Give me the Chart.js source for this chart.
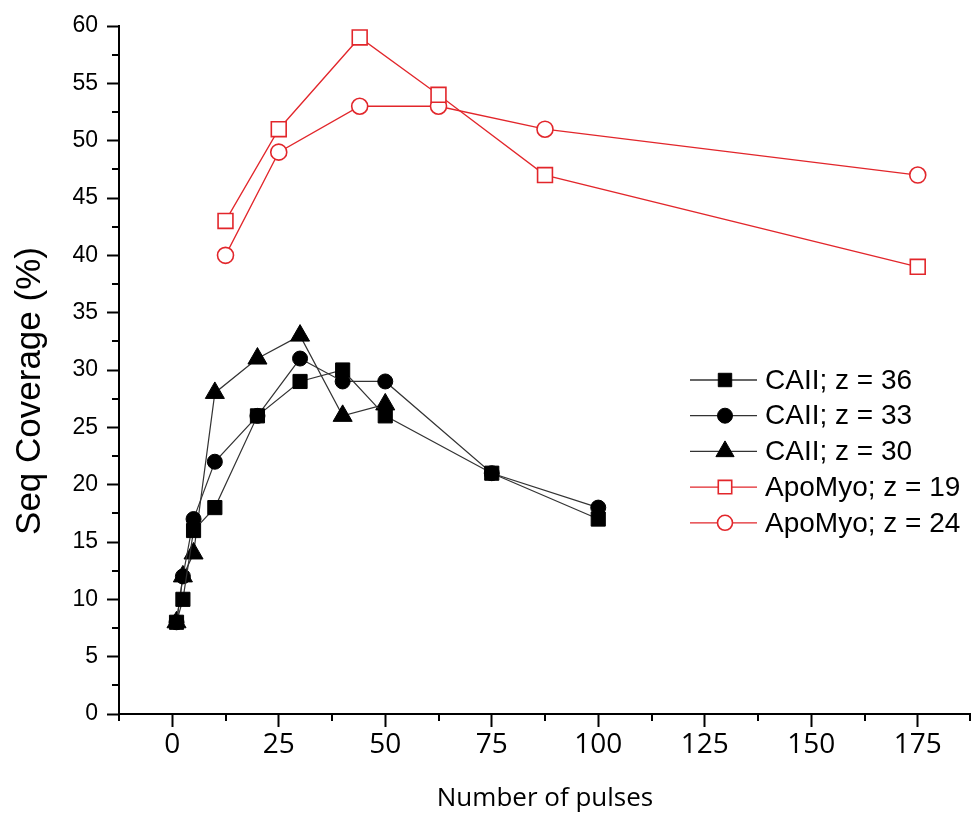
<!DOCTYPE html>
<html>
<head>
<meta charset="utf-8">
<script src="https://cdn.jsdelivr.net/npm/chart.js@4.4.1/dist/chart.umd.min.js"></script>
<style>
  html, body { margin: 0; padding: 0; background: #fff; }
  #wrap { width: 971px; height: 814px; }
</style>
</head>
<body>
<div id="wrap"><canvas id="cov"></canvas></div>
<script>
// pulses vs. sequence coverage
const caiiPulses = [1, 2.5, 5, 10, 20, 30, 40, 50, 75, 100];
const caii36 = [8, 10, 16, 18, 26, 29, 30, 26, 21, 17];
const caii33 = [8, 12, 17, 22, 26, 31, 29, 29, 21, 18];
const caii30Pulses = [1, 2.5, 5, 10, 20, 30, 40, 50];
const caii30 = [8, 12, 14, 28, 31, 33, 26, 27];
const apoPulses = [12.5, 25, 44, 62.5, 87.5, 175];
const apo19 = [43, 51, 59, 54, 47, 39];
const apo24 = [40, 49, 53, 53, 51, 47];

const seriesLabels = ['CAII; z = 36', 'CAII; z = 33', 'CAII; z = 30', 'ApoMyo; z = 19', 'ApoMyo; z = 24'];

const xTicks = [0, 25, 50, 75, 100, 125, 150, 175];
const xMinor = [-12.5, 12.5, 37.5, 62.5, 87.5, 112.5, 137.5, 162.5, 187.5];
const yTicks = [0, 5, 10, 15, 20, 25, 30, 35, 40, 45, 50, 55, 60];
const yMinor = [2.5, 7.5, 12.5, 17.5, 22.5, 27.5, 32.5, 37.5, 42.5, 47.5, 52.5, 57.5];

const RED = '#e2262b';
const LINE = '#333';

const pts = (xs, ys) => xs.map((x, i) => ({ x: x, y: ys[i] }));

function black(label, data, style, r) {
  return {
    label, data, showLine: true,
    borderColor: LINE, borderWidth: 1.2,
    pointStyle: style, pointRadius: r, pointHoverRadius: r,
    pointBackgroundColor: '#000', pointBorderColor: '#000', pointBorderWidth: 1
  };
}
function red(label, data, style, r) {
  return {
    label, data, showLine: true,
    borderColor: RED, borderWidth: 1.3,
    pointStyle: style, pointRadius: r, pointHoverRadius: r,
    pointBackgroundColor: '#fff', pointBorderColor: RED, pointBorderWidth: 1.6
  };
}

const datasets = [
  black(seriesLabels[0], pts(caiiPulses, caii36), 'rect', 10),
  black(seriesLabels[1], pts(caiiPulses, caii33), 'circle', 7.5),
  black(seriesLabels[2], pts(caii30Pulses, caii30), 'triangle', 11),
  red(seriesLabels[3], pts(apoPulses, apo19), 'rect', 10.5),
  red(seriesLabels[4], pts(apoPulses, apo24), 'circle', 8)
];

// small marker helper for the legend
function marker(ctx, style, x, y, r, fill, stroke, lw) {
  ctx.save();
  ctx.fillStyle = fill; ctx.strokeStyle = stroke; ctx.lineWidth = lw;
  ctx.beginPath();
  if (style === 'rect') {
    const s = Math.SQRT1_2 * r;
    ctx.rect(x - s, y - s, 2 * s, 2 * s);
  } else if (style === 'circle') {
    ctx.arc(x, y, r, 0, Math.PI * 2);
  } else {
    ctx.moveTo(x, y - r);
    ctx.lineTo(x + r * 0.866, y + r * 0.5);
    ctx.lineTo(x - r * 0.866, y + r * 0.5);
    ctx.closePath();
  }
  ctx.fill();
  ctx.stroke();
  ctx.restore();
}

const extras = {
  id: 'extras',
  afterDraw(chart) {
    const ctx = chart.ctx;
    const xs = chart.scales.x, ys = chart.scales.y;
    const area = chart.chartArea;
    ctx.save();
    ctx.strokeStyle = '#000';
    ctx.lineWidth = 2;
    // minor ticks
    yMinor.forEach(v => {
      const py = Math.round(ys.getPixelForValue(v));
      ctx.beginPath(); ctx.moveTo(area.left - 7, py); ctx.lineTo(area.left, py); ctx.stroke();
    });
    xMinor.forEach(v => {
      const px = Math.min(Math.round(xs.getPixelForValue(v)), chart.width - 1);
      ctx.beginPath(); ctx.moveTo(px, area.bottom); ctx.lineTo(px, area.bottom + 7); ctx.stroke();
    });
    ctx.restore();

    // y axis title, a little below the middle of the axis
    ctx.save();
    ctx.translate(40, 391);
    ctx.rotate(-Math.PI / 2);
    ctx.fillStyle = '#000';
    ctx.font = '35px "Liberation Sans", Arial, sans-serif';
    ctx.textAlign = 'center';
    ctx.textBaseline = 'alphabetic';
    ctx.fillText('Seq Coverage (%)', 0, 0);
    ctx.restore();

    // legend: line + marker + label
    const lx = 690, lw = 67, top = 380, step = 35.7;
    chart.data.datasets.forEach((ds, i) => {
      const y = top + i * step;
      ctx.save();
      ctx.strokeStyle = ds.borderColor;
      ctx.lineWidth = 1.3;
      ctx.beginPath(); ctx.moveTo(lx, y); ctx.lineTo(lx + lw, y); ctx.stroke();
      ctx.restore();
      const r = ds.pointStyle === 'rect' ? 9.5 : (ds.pointStyle === 'triangle' ? 10.5 : 7.5);
      marker(ctx, ds.pointStyle, lx + 35, y, r, ds.pointBackgroundColor, ds.pointBorderColor, ds.pointBorderWidth);
      ctx.save();
      ctx.fillStyle = '#000';
      ctx.font = '28px "Liberation Sans", Arial, sans-serif';
      ctx.textBaseline = 'middle';
      ctx.fillText(ds.label, lx + lw + 8, y + 1);
      ctx.restore();
    });
  }
};

new Chart(document.getElementById('cov'), {
  type: 'scatter',
  data: { datasets },
  options: {
    responsive: true,
    maintainAspectRatio: false,
    animation: false,
    layout: { autoPadding: false, padding: { top: 26, right: 0, left: 0, bottom: 0 } },
    plugins: { legend: { display: false }, tooltip: { enabled: false } },
    scales: {
      x: {
        type: 'linear', min: -12.5, max: 187.5,
        afterBuildTicks: s => { s.ticks = xTicks.map(v => ({ value: v })); },
        afterFit: s => { s.height = 100; s.paddingLeft = 0; s.paddingRight = 0; },
        border: { color: '#000', width: 2 },
        grid: { drawOnChartArea: false, drawTicks: true, tickLength: 13, tickColor: '#000', tickWidth: 2 },
        ticks: {
          color: '#000', padding: 1, maxRotation: 0, autoSkip: false,
          font: { family: '"Open Sans", sans-serif', size: 28 }
        },
        title: {
          display: true, text: 'Number of pulses', color: '#000',
          font: { family: '"Open Sans", sans-serif', size: 26 },
          padding: { top: 0, bottom: 0 }
        }
      },
      y: {
        type: 'linear', min: 0, max: 60,
        afterBuildTicks: s => { s.ticks = yTicks.map(v => ({ value: v })); },
        afterFit: s => { s.width = 119; },
        border: { color: '#000', width: 2 },
        grid: { drawOnChartArea: false, drawTicks: true, tickLength: 12, tickColor: '#000', tickWidth: 2 },
        ticks: {
          color: '#000', padding: 9,
          font: { family: '"Liberation Sans", Arial, sans-serif', size: 23 }
        },
        title: { display: false }
      }
    }
  },
  plugins: [extras]
});
</script>
</body>
</html>
